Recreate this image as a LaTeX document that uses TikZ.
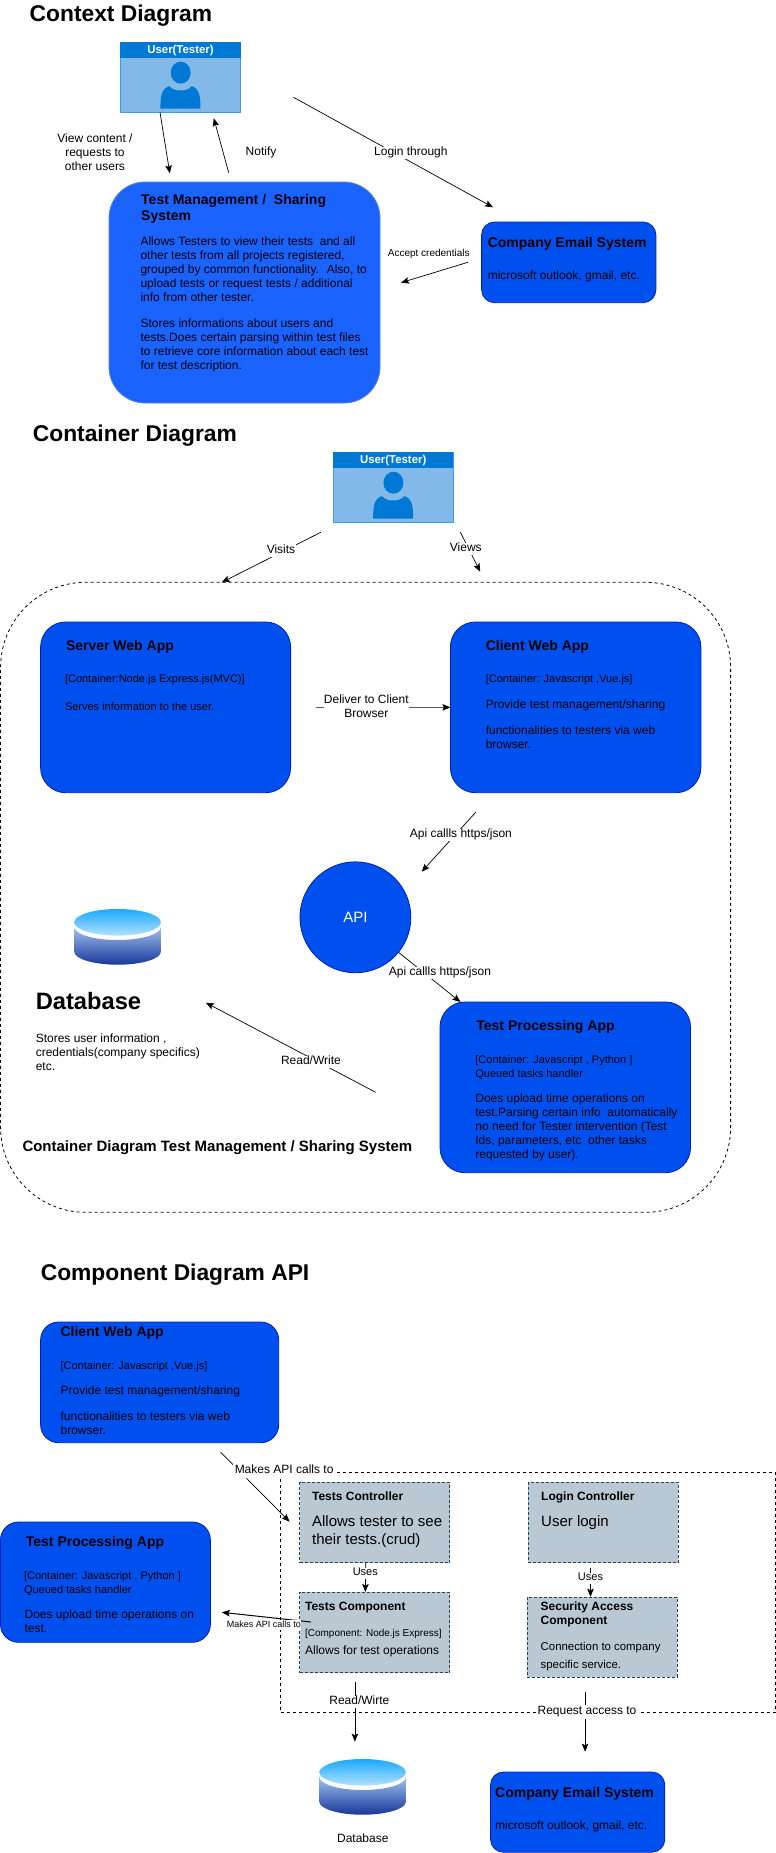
\documentclass[tikz,border=0pt]{standalone}
\usepackage{fontspec}
\setmainfont{Liberation Sans}
\usetikzlibrary{arrows.meta}
\definecolor{cobalt}{HTML}{0050EF}
\definecolor{cobaltline}{HTML}{001DBC}
\definecolor{tmsfill}{HTML}{1B63FF}
\definecolor{tmsline}{HTML}{5B83D6}
\definecolor{gfill}{HTML}{BAC8D3}
\definecolor{gline}{HTML}{23445D}
\definecolor{uhead}{HTML}{0079D6}
\definecolor{ubody}{HTML}{83B9E9}
\definecolor{uline}{HTML}{3F9BE6}
\definecolor{dbtopa}{RGB}{27,168,255}
\definecolor{dbtopb}{RGB}{178,226,255}
\definecolor{dbbota}{RGB}{160,194,240}
\definecolor{dbbotb}{RGB}{24,54,152}
\tikzset{
  ttl/.style={anchor=base west,inner sep=0pt,font=\fontsize{22.8}{26}\selectfont\bfseries},
  cob/.style={draw=cobaltline,fill=cobalt,anchor=north west,inner sep=0pt,outer sep=0pt,line width=.8pt},
  gbox/.style={draw=gline,fill=gfill,dash pattern=on 3pt off 2pt,anchor=north west,inner sep=0pt,outer sep=0pt,line width=.7pt},
  container/.style={draw=black,dash pattern=on 3pt off 3pt,line width=.8pt,anchor=north west,inner sep=0pt,outer sep=0pt},
  conn/.style={draw=black,line width=.7pt,-{Stealth[length=8pt,width=6.5pt,inset=1.5pt]}},
  lab/.style={fill=white,inner sep=.6pt,text height=8.6pt,text depth=2.6pt,font=\fontsize{12}{14}\selectfont},
  labs/.style={fill=white,inner sep=.6pt,text height=7.4pt,text depth=2.2pt,font=\fontsize{11}{13}\selectfont},
  mlab/.style={anchor=north,inner sep=0pt,fill=white,align=center,yshift=5.8pt,font=\fontsize{12}{14}\selectfont},
  tb/.style={anchor=north west,inner sep=0pt,align=left,yshift=6.4pt,font=\fontsize{14}{16}\selectfont\bfseries},
  tb12/.style={anchor=north west,inner sep=0pt,align=left,yshift=5.8pt,font=\fontsize{12}{14}\selectfont\bfseries},
  tn/.style={anchor=north west,inner sep=0pt,align=left,yshift=5.8pt,font=\fontsize{12}{14}\selectfont},
  ts/.style={anchor=north west,inner sep=0pt,align=left,yshift=6.1pt,font=\fontsize{11}{14}\selectfont},
}
\newcommand{\usericon}[3]{%
  \begin{scope}[shift={(#2,#3)}]
    \node[draw=uline,fill=ubody,line width=.8pt,anchor=north west,inner sep=0pt,outer sep=0pt,minimum width=120.3,minimum height=70] (#1) at (0,0) {};
    \node[fill=uhead,anchor=north west,inner sep=0pt,outer sep=0pt,minimum width=120.3,minimum height=16] (#1hd) at (0,0) {};
    \node[text=white,inner sep=0pt,font=\fontsize{11.4}{13}\selectfont\bfseries] (#1lb) at (60.2,7.8) {User(Tester)};
    \fill[uhead] (60.4,30.4) ellipse[x radius=10,y radius=11];
    \fill[uhead] (40.1,66.4) .. controls (40.2,55) and (40.5,46.5) .. (49,43.8)
      .. controls (52,47) and (55,48.2) .. (60.2,48.2)
      .. controls (65.5,48.2) and (68.5,47) .. (71.5,43.8)
      .. controls (79.5,46.5) and (80.1,55) .. (80.2,66.4) -- cycle;
  \end{scope}}
\newcommand{\dbicon}[2]{%
  \begin{scope}[shift={(#1,#2)}]
    \path[top color=dbtopa,bottom color=dbtopb]
      (43.3,13.3) ellipse[x radius=43.3,y radius=13.3];
    \path[top color=dbbota,bottom color=dbbotb]
      (0,18) arc[start angle=180,end angle=0,x radius=43.3,y radius=13]
      -- (86.6,42.7) arc[start angle=0,end angle=180,x radius=43.3,y radius=13] -- cycle;
  \end{scope}}
\begin{document}
\begin{tikzpicture}[x=1pt,y=-1pt]
\useasboundingbox (0,0) rectangle (776,1853);
\fill[white] (0,0) rectangle (776,1853);

% ---------- Context diagram
\node[ttl] (t1) at (29.5,21) {Context Diagram};
\usericon{u1}{120.3}{42.3}
\node[draw=tmsline,fill=tmsfill,anchor=north west,inner sep=0pt,outer sep=0pt,line width=.8pt,rounded corners=36pt,minimum width=271,minimum height=221] (tms) at (109,182) {};
\node[tb] (tmst) at (141,199.3) {\strut Test Management /~ Sharing\\System};
\node[tn] (tmsb) at (140.3,241.7) {\strut Allows Testers to view their tests~ and all\\other tests from all projects registered,\\grouped by common functionality.~ Also, to\\upload tests or request tests / additional\\info from other tester.\\[12pt]Stores informations about users and\\tests.Does certain parsing within test files\\to retrieve core information about each test\\for test description.};
\node[cob,rounded corners=13pt,minimum width=174.3,minimum height=80.7] (mail1) at (481.6,222) {};
\node[tb] (mail1t) at (487.6,242.3) {\strut Company Email System};
\node[tn] (mail1b) at (487.6,275.7) {\strut microsoft outlook, gmail, etc.};

\coordinate (a1) at (160,112.3); \coordinate (a2) at (169.8,173.3);
\draw[conn] (a1) -- (a2);
\coordinate (b1) at (228.7,172.7); \coordinate (b2) at (213.8,118.3);
\draw[conn] (b1) -- (b2);
\coordinate (c1) at (293.5,97.3); \coordinate (c2) at (493,207.3);
\draw[conn] (c1) -- (c2);
\coordinate (d1) at (467.8,262.3); \coordinate (d2) at (401,282.7);
\draw[conn] (d1) -- (d2);
\node[mlab,fill=none] (lview) at (95,138.3) {\strut View content /\\requests to\\other users};
\node[lab] (lnotify) at (261,152.7) {Notify};
\node[lab] (llogin) at (410.9,152.7) {Login through};
\node[inner sep=0pt,font=\fontsize{10}{12}\selectfont] (laccept) at (428.7,253.7) {Accept credentials};

% ---------- Container diagram
\node[ttl] (t2) at (32.7,441.7) {Container Diagram};
\usericon{u2}{333}{452.3}
\node[container,rounded corners=85pt,minimum width=730,minimum height=630] (sys) at (.6,582.3) {};
\coordinate (e1) at (320.8,532.3); \coordinate (e2) at (221.8,582.3);
\draw[conn] (e1) -- (e2);
\node[lab] (lvisits) at (281,550.3) {Visits};
\coordinate (f1) at (460.4,532.3); \coordinate (f2) at (480.2,571.7);
\draw[conn] (f1) -- (f2);
\node[lab] (lviews) at (465.8,548.7) {Views};

\node[cob,rounded corners=25pt,minimum width=250,minimum height=170.7] (server) at (40.6,622) {};
\node[tb] (servert) at (65.8,645.3) {\strut Server Web App};
\node[ts] (serverc) at (64.8,679) {\strut [Container:Node.js Express.js(MVC)]};
\node[ts] (serverb) at (64.8,707) {\strut Serves information to the user.};

\node[cob,rounded corners=25pt,minimum width=250.5,minimum height=170.7] (client) at (450.4,622) {};
\node[tb] (clientt) at (485.6,645.3) {\strut Client Web App};
\node[ts] (clientc) at (485.6,679) {\strut [Container: Javascript ,Vue.js]};
\node[tn] (clientp) at (485.6,704.7) {\strut Provide test management/sharing};
\node[tn] (clientb) at (485.6,730.7) {\strut functionalities to testers via web\\browser.};

\coordinate (g1) at (315.8,707.35);
\draw[conn] (g1) -- (client.west);
\node[mlab] (ldeliver) at (366.3,699.7) {\strut Deliver to Client\\Browser};

\node[circle,draw=cobaltline,fill=cobalt,inner sep=0pt,outer sep=0pt,line width=.8pt,minimum size=110.9,text=white,font=\fontsize{15}{17}\selectfont] (api) at (355.4,917.3) {API};
\coordinate (h1) at (475.7,812.3); \coordinate (h2) at (421.7,871.7);
\draw[conn] (h1) -- (h2);
\node[lab] (lapi1) at (460.9,834.7) {Api callls https/json};

\node[cob,rounded corners=25pt,minimum width=250.5,minimum height=170.7] (proc) at (440,1002) {};
\coordinate (i1) at (398.5,952.3); \coordinate (i2) at (460.4,1002);
\draw[conn] (i1) -- (i2);
\node[lab] (lapi2) at (440,972.7) {Api callls https/json};
\node[tb] (proct) at (476.2,1025.3) {\strut Test Processing App};
\node[ts] (procc) at (475.2,1059.3) {\strut [Container: Javascript , Python ]\\Queued tasks handler};
\node[tn] (procb) at (475.2,1098.7) {\strut Does upload time operations on\\test.Parsing certain info~ automatically\\no need for Tester intervention (Test\\Ids, parameters, etc~ other tasks\\requested by user).};

\dbicon{74.3}{909}
\node[anchor=base west,inner sep=0pt,font=\fontsize{23.7}{27}\selectfont\bfseries] (dbt) at (35.6,1009.3) {Database};
\node[tn] (dbb) at (35.6,1038.7) {\strut Stores user information ,\\credentials(company specifics)\\etc.};
\coordinate (j1) at (375.7,1092.3); \coordinate (j2) at (205.9,1002.7);
\draw[conn] (j1) -- (j2);
\node[lab] (lrw) at (310.9,1061.7) {Read/Write};
\node[anchor=west,inner sep=0pt,text height=10.6pt,text depth=3.2pt,font=\fontsize{15}{17}\selectfont\bfseries] (sysl) at (22.3,1148) {Container Diagram Test Management / Sharing System};

% ---------- Component diagram
\node[ttl] (t3) at (40.6,1280.7) {Component Diagram API};
\node[container,minimum width=494.6,minimum height=240] (api2) at (280.7,1472.3) {};

\node[cob,rounded corners=18pt,minimum width=238.1,minimum height=120.7] (client2) at (40.6,1322) {};
\node[tb] (client2t) at (60.4,1331.3) {\strut Client Web App};
\node[ts] (client2c) at (60.4,1365.3) {\strut [Container: Javascript ,Vue.js]};
\node[tn] (client2p) at (60.4,1390.7) {\strut Provide test management/sharing};
\node[tn] (client2b) at (60.4,1416.7) {\strut functionalities to testers via web\\browser.};

\node[gbox,minimum width=150,minimum height=80.4] (tc) at (299.5,1482.3) {};
\node[tb12] (tct) at (311.9,1496.7) {\strut Tests Controller};
\node[anchor=north west,inner sep=0pt,align=left,yshift=7.6pt,font=\fontsize{15}{18}\selectfont] (tcb) at (311.9,1521) {\strut Allows tester to see\\their tests.(crud)};

\node[gbox,minimum width=150,minimum height=80.4] (lc) at (528.2,1482.3) {};
\node[tb12] (lct) at (541,1496.7) {\strut Login Controller};
\node[anchor=north west,inner sep=0pt,align=left,yshift=7.6pt,font=\fontsize{15}{18}\selectfont] (lcb) at (541,1521) {\strut User login};

\node[gbox,minimum width=150,minimum height=80.7] (tcomp) at (299.5,1592) {};
\node[tb12] (tcompt) at (304.9,1606.7) {\strut Tests Component};
\node[anchor=north west,inner sep=0pt,align=left,yshift=6pt,font=\fontsize{10}{13}\selectfont] (tcompc) at (304.9,1632.7) {\strut [Component: Node.js Express]};
\node[tn] (tcompb) at (304.9,1650) {\strut Allows for test operations};

\node[gbox,minimum width=150,minimum height=80] (sec) at (527.2,1597.3) {};
\node[tb12] (sect) at (540.5,1606.7) {\strut Security Access\\Component};
\node[anchor=north west,inner sep=0pt,align=left,yshift=8.5pt,font=\fontsize{11.4}{18}\selectfont] (secb) at (540.5,1646) {\strut Connection to company\\specific service.};

\coordinate (k1) at (220.8,1452.3); \coordinate (k2) at (289.6,1521.7);
\draw[conn] (k1) -- (k2);
\node[lab,inner sep=1.5pt] (lmakes) at (284.1,1470.7) {Makes API calls to};

\coordinate (l1) at (365.8,1562.7); \coordinate (l2) at (365.3,1592);
\draw[conn] (l1) -- (l2);
\node[labs] (luses1) at (365.3,1573.3) {Uses};
\coordinate (m1) at (590.5,1567.7); \coordinate (m2) at (590.5,1596.7);
\draw[conn] (m1) -- (m2);
\node[labs] (luses2) at (590.5,1578.3) {Uses};

\node[cob,rounded corners=18pt,minimum width=209.9,minimum height=120.3] (proc2) at (.5,1522) {};
\node[tb] (proc2t) at (25.7,1541.3) {\strut Test Processing App};
\node[ts] (proc2c) at (23.8,1575.3) {\strut [Container: Javascript , Python ]\\Queued tasks handler};
\node[tn] (proc2b) at (24.4,1614.7) {\strut Does upload time operations on\\test.};

\coordinate (n1) at (310.9,1622); \coordinate (n2) at (221.8,1612.3);
\draw[conn,line width=1pt] (n1) -- (n2);
\node[fill=white,inner sep=.6pt,text height=6.6pt,text depth=2pt,font=\fontsize{9}{11}\selectfont] (lmakes2) at (263.8,1624.7) {Makes API calls to};

\coordinate (o1) at (354.9,1682.3); \coordinate (o2) at (354.9,1741.7);
\draw[conn] (o1) -- (o2);
\node[lab] (lread) at (359.4,1701.7) {Read/Wirte};
\coordinate (p1) at (585.1,1692.3); \coordinate (p2) at (585.1,1751.7);
\draw[conn] (p1) -- (p2);
\node[lab,inner sep=1.5pt] (lreq) at (587,1711.7) {Request access to};

\dbicon{319.3}{1759}
\node[inner sep=0pt,text height=8.6pt,text depth=2.6pt,font=\fontsize{12}{14}\selectfont] (dbl) at (362.8,1839.7) {Database};
\node[cob,rounded corners=13pt,minimum width=174.3,minimum height=80.2] (mail2) at (490.5,1772) {};
\node[tb] (mail2t) at (495,1792.3) {\strut Company Email System};
\node[tn] (mail2b) at (495,1825.7) {\strut microsoft outlook, gmail, etc.};
\end{tikzpicture}
\end{document}
